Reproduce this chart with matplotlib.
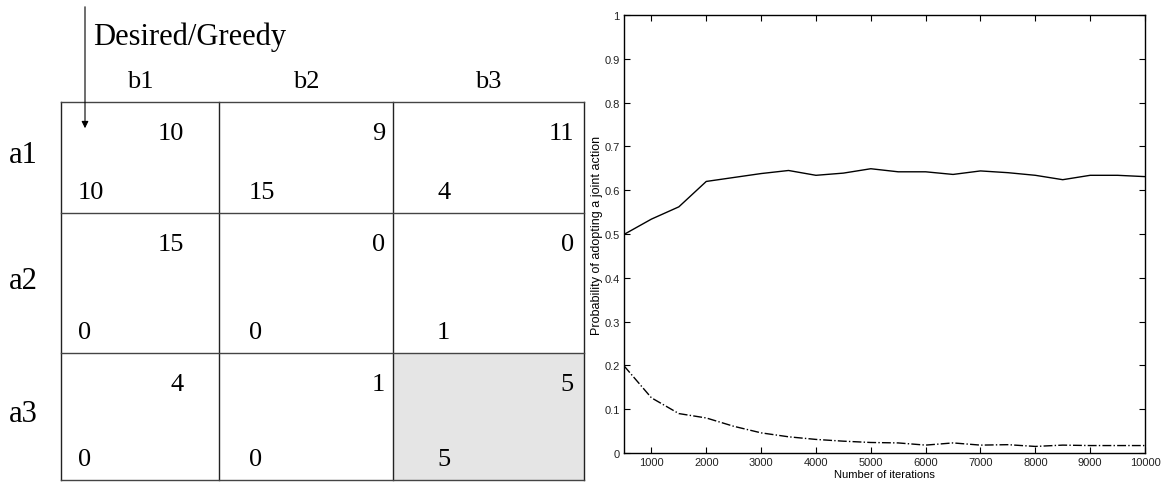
import matplotlib
matplotlib.use('Agg')
import matplotlib.pyplot as plt
from matplotlib.patches import Rectangle

# payoff table
row_labels = ['a1', 'a2', 'a3']
col_labels = ['b1', 'b2', 'b3']
payoff_top = [[10, 9, 11], [15, 0, 0], [4, 1, 5]]
payoff_bottom = [[10, 15, 4], [0, 0, 1], [0, 0, 5]]
shaded_cell = (2, 2)

# learning curves
iterations = [500, 1000, 1500, 2000, 2500, 3000, 3500, 4000, 4500, 5000,
              5500, 6000, 6500, 7000, 7500, 8000, 8500, 9000, 9500, 10000]
prob_optimal = [0.499, 0.534, 0.562, 0.620, 0.629, 0.638, 0.645, 0.634, 0.639, 0.649,
                0.642, 0.642, 0.636, 0.644, 0.640, 0.634, 0.624, 0.634, 0.634, 0.631]
prob_other = [0.199, 0.126, 0.090, 0.080, 0.061, 0.046, 0.037, 0.031, 0.027, 0.024,
              0.023, 0.018, 0.023, 0.018, 0.019, 0.015, 0.018, 0.017, 0.017, 0.017]
xticks = [1000, 2000, 3000, 4000, 5000, 6000, 7000, 8000, 9000, 10000]
yticks = [0, 0.1, 0.2, 0.3, 0.4, 0.5, 0.6, 0.7, 0.8, 0.9, 1]
ytick_labels = ['0', '0.1', '0.2', '0.3', '0.4', '0.5', '0.6', '0.7', '0.8', '0.9', '1']

W, H = 1166, 485
fig = plt.figure(figsize=(W / 100, H / 100), dpi=100)

# left part drawn in pixel coordinates
tab = fig.add_axes([0, 0, 1, 1])
tab.set_xlim(0, W)
tab.set_ylim(H, 0)
tab.axis('off')

x_edges = [61, 219, 393, 584]
y_edges = [103, 214, 354, 481]
top_off = [35, 8, 10]
bot_off = [17, 30, 44]
serif = 'Liberation Serif'
fs = 19

r, c = shaded_cell
tab.add_patch(Rectangle((x_edges[c], y_edges[r]), x_edges[c + 1] - x_edges[c],
                        y_edges[r + 1] - y_edges[r], facecolor='#e5e5e5', edgecolor='none'))
for x in x_edges:
    tab.plot([x, x], [y_edges[0], y_edges[-1]], color='#222222', lw=1)
for y in y_edges:
    tab.plot([x_edges[0], x_edges[-1]], [y, y], color='#444444', lw=1)

for j, lab in enumerate(col_labels):
    tab.text((x_edges[j] + x_edges[j + 1]) / 2, 88, lab, family=serif, fontsize=fs,
             ha='center', va='baseline')
for i, lab in enumerate(row_labels):
    tab.text(9, (y_edges[i] + y_edges[i + 1]) / 2 + 5, lab, family=serif, fontsize=22,
             ha='left', va='baseline')
    for j in range(3):
        tab.text(x_edges[j + 1] - top_off[j], y_edges[i] + 37, str(payoff_top[i][j]),
                 family=serif, fontsize=fs, ha='right', va='baseline')
        tab.text(x_edges[j] + bot_off[j], y_edges[i + 1] - 15, str(payoff_bottom[i][j]),
                 family=serif, fontsize=fs, ha='left', va='baseline')

tab.text(93, 45, 'Desired/Greedy', family=serif, fontsize=22, ha='left', va='baseline')
tab.annotate('', xy=(85, 132), xytext=(85, 5),
             arrowprops=dict(arrowstyle='-|>', lw=0.8, color='black', mutation_scale=10))

# right chart
ax = fig.add_axes([624 / W, 1 - 454 / H, (1145 - 624) / W, (454 - 16) / H])
ax.plot(iterations, prob_optimal, color='black', lw=1)
ax.plot(iterations, prob_other, color='black', lw=1, linestyle='-.')
ax.set_xlim(500, 10000)
ax.set_ylim(0, 1)
ax.set_xticks(xticks)
ax.set_yticks(yticks)
ax.set_yticklabels(ytick_labels)
ax.tick_params(direction='in', length=4, top=True, right=True, labelsize=8,
               labelcolor='#222222', pad=3)
for lab in ax.get_xticklabels() + ax.get_yticklabels():
    lab.set_family('Liberation Sans')
ax.set_xlabel('Number of iterations', family='Liberation Sans', fontsize=8, labelpad=1)
ax.set_ylabel('Probability of adopting a joint action', family='Liberation Sans',
              fontsize=9, labelpad=1)
for s in ax.spines.values():
    s.set_linewidth(1)

fig.savefig('out.png', dpi=100)
